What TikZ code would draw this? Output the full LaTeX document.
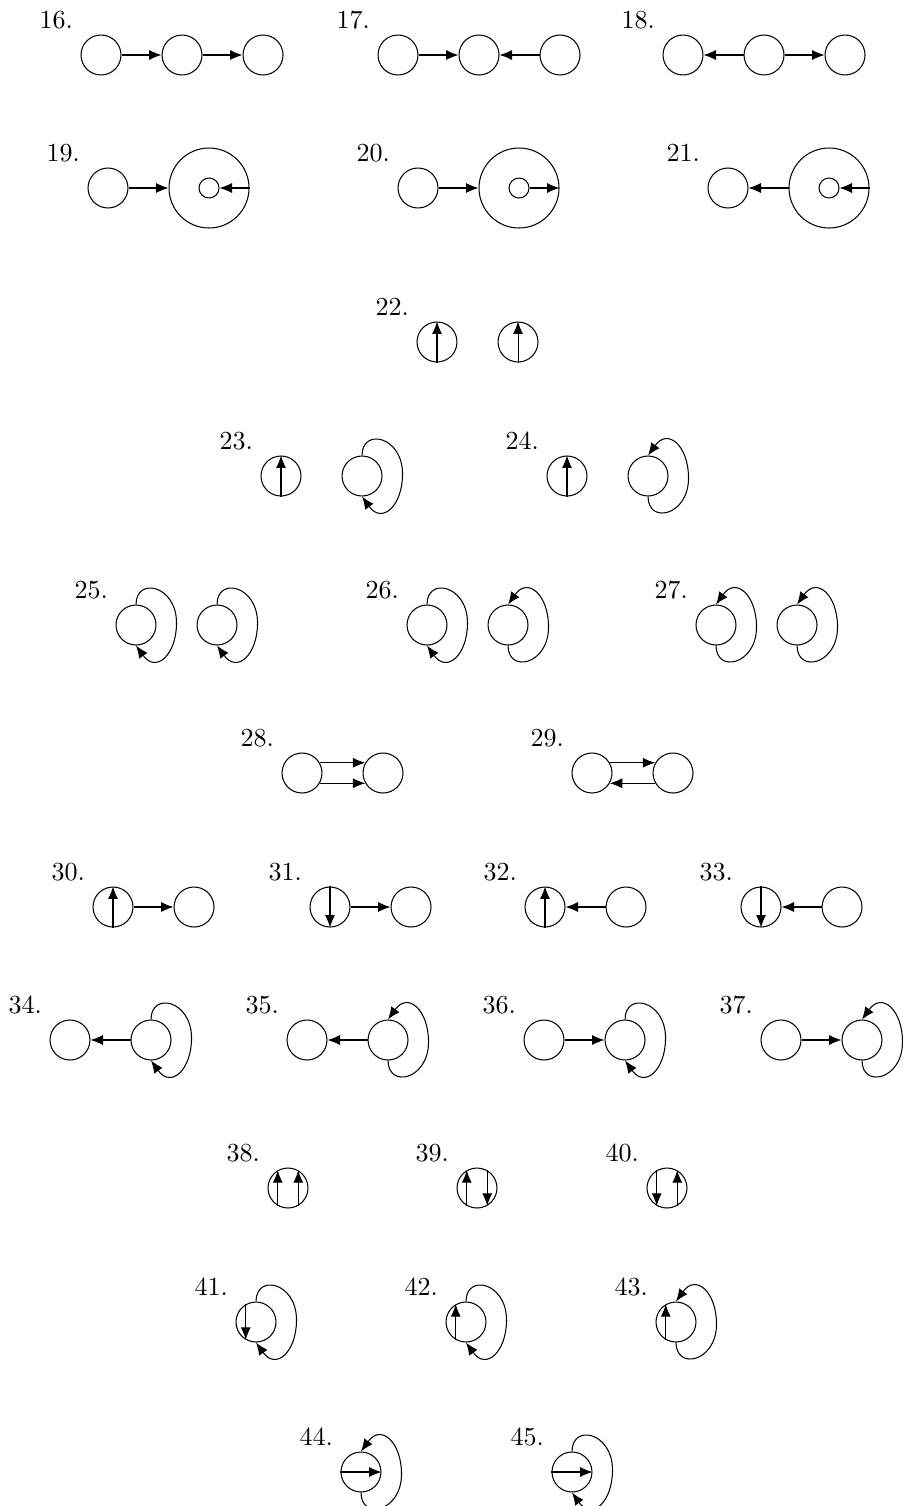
\documentclass[tikz,border=0pt]{standalone}
\usepackage{tikz}
\usetikzlibrary{arrows.meta,calc,positioning}
\tikzset{
    >={Latex[length=4.8pt,width=3.9pt]},
    state/.style={circle, draw, minimum size=0.54cm, inner sep=0pt},
    big/.style={circle, draw, minimum size=1.08cm, inner sep=0pt},
    tiny/.style={circle, draw, minimum size=0.27cm, inner sep=0pt},
    lbl/.style={inner sep=3.33pt}
}
% self loops round the right side, arrow at the south or at the north
\newcommand{\loopS}[1]{\draw[->] (#1.north) .. controls +(0,28) and +(0,38) .. ($(#1.east)+(20,2)$) .. controls +(0,-32) and +(20,-28) .. (#1.south);}
\newcommand{\loopN}[1]{\draw[->] (#1.south) .. controls +(0,-28) and +(0,-38) .. ($(#1.east)+(20,-2)$) .. controls +(0,32) and +(20,28) .. (#1.north);}

\begin{document}
\begin{tikzpicture}[x=0.0135cm,y=0.0135cm]
    \useasboundingbox (0,0) rectangle (902,-1506);
    % 16 - 18
    \node[state] (a16) at (101,-55) {};
    \node[state] (b16) [right=0.54cm of a16] {};
    \node[state] (c16) [right=0.54cm of b16] {};
    \node[lbl] (l16) [above left=1pt and 1.7pt of a16] {16.};
    \draw[->] (a16) -- (b16);
    \draw[->] (b16) -- (c16);
    \node[state] (a17) at (398,-55) {};
    \node[state] (b17) [right=0.54cm of a17] {};
    \node[state] (c17) [right=0.54cm of b17] {};
    \node[lbl] (l17) [above left=1pt and 1.7pt of a17] {17.};
    \draw[->] (a17) -- (b17);
    \draw[->] (c17) -- (b17);
    \node[state] (a18) at (683,-55) {};
    \node[state] (b18) [right=0.54cm of a18] {};
    \node[state] (c18) [right=0.54cm of b18] {};
    \node[lbl] (l18) [above left=1pt and 1.7pt of a18] {18.};
    \draw[->] (b18) -- (a18);
    \draw[->] (b18) -- (c18);
    % 19 - 21
    \node[state] (s19) at (108,-188) {};
    \node[big] (g19) [right=0.54cm of s19] {};
    \node[tiny] (t19) at (g19) {};
    \node[lbl] (l19) [above left=1pt and 1.7pt of s19] {19.};
    \draw[->] (s19) -- (g19);
    \draw[->] (g19.east) -- (t19.east);
    \node[state] (s20) at (418,-188) {};
    \node[big] (g20) [right=0.54cm of s20] {};
    \node[tiny] (t20) at (g20) {};
    \node[lbl] (l20) [above left=1pt and 1.7pt of s20] {20.};
    \draw[->] (s20) -- (g20);
    \draw[->] (t20.east) -- (g20.east);
    \node[state] (s21) at (728,-188) {};
    \node[big] (g21) [right=0.54cm of s21] {};
    \node[tiny] (t21) at (g21) {};
    \node[lbl] (l21) [above left=1pt and 1.7pt of s21] {21.};
    \draw[->] (g21) -- (s21);
    \draw[->] (g21.east) -- (t21.east);
    % 22
    \node[state] (a22) at (437,-342) {};
    \node[state] (b22) [right=0.54cm of a22] {};
    \node[lbl] (l22) [above left=1pt and 1.7pt of a22] {22.};
    \draw[->] (a22.south) -- (a22.north);
    \draw[->] (b22.south) -- (b22.north);
    % 23 - 24
    \node[state] (a23) at (281,-476) {};
    \node[state] (b23) [right=0.54cm of a23] {};
    \node[lbl] (l23) [above left=1pt and 1.7pt of a23] {23.};
    \draw[->] (a23.south) -- (a23.north);
    \loopS{b23}
    \node[state] (a24) at (567,-476) {};
    \node[state] (b24) [right=0.54cm of a24] {};
    \node[lbl] (l24) [above left=1pt and 1.7pt of a24] {24.};
    \draw[->] (a24.south) -- (a24.north);
    \loopN{b24}
    % 25 - 27
    \node[state] (a25) at (136,-625) {};
    \node[state] (b25) [right=0.54cm of a25] {};
    \node[lbl] (l25) [above left=1pt and 1.7pt of a25] {25.};
    \loopS{a25}
    \loopS{b25}
    \node[state] (a26) at (427,-625) {};
    \node[state] (b26) [right=0.54cm of a26] {};
    \node[lbl] (l26) [above left=1pt and 1.7pt of a26] {26.};
    \loopS{a26}
    \loopN{b26}
    \node[state] (a27) at (716,-625) {};
    \node[state] (b27) [right=0.54cm of a27] {};
    \node[lbl] (l27) [above left=1pt and 1.7pt of a27] {27.};
    \loopN{a27}
    \loopN{b27}
    % 28 - 29
    \node[state] (a28) at (302,-773) {};
    \node[state] (b28) [right=0.54cm of a28] {};
    \node[lbl] (l28) [above left=1pt and 1.7pt of a28] {28.};
    \draw[->] (a28.30) -- (b28.150);
    \draw[->] (a28.-30) -- (b28.-150);
    \node[state] (a29) at (592,-773) {};
    \node[state] (b29) [right=0.54cm of a29] {};
    \node[lbl] (l29) [above left=1pt and 1.7pt of a29] {29.};
    \draw[->] (a29.30) -- (b29.150);
    \draw[->] (b29.-150) -- (a29.-30);
    % 30 - 33
    \node[state] (a30) at (113,-907) {};
    \node[state] (b30) [right=0.54cm of a30] {};
    \node[lbl] (l30) [above left=1pt and 1.7pt of a30] {30.};
    \draw[->] (a30.south) -- (a30.north);
    \draw[->] (a30) -- (b30);
    \node[state] (a31) at (330,-907) {};
    \node[state] (b31) [right=0.54cm of a31] {};
    \node[lbl] (l31) [above left=1pt and 1.7pt of a31] {31.};
    \draw[->] (a31.north) -- (a31.south);
    \draw[->] (a31) -- (b31);
    \node[state] (a32) at (545,-907) {};
    \node[state] (b32) [right=0.54cm of a32] {};
    \node[lbl] (l32) [above left=1pt and 1.7pt of a32] {32.};
    \draw[->] (a32.south) -- (a32.north);
    \draw[->] (b32) -- (a32);
    \node[state] (a33) at (761,-907) {};
    \node[state] (b33) [right=0.54cm of a33] {};
    \node[lbl] (l33) [above left=1pt and 1.7pt of a33] {33.};
    \draw[->] (a33.north) -- (a33.south);
    \draw[->] (b33) -- (a33);
    % 34 - 37
    \node[state] (a34) at (70,-1040) {};
    \node[state] (b34) [right=0.54cm of a34] {};
    \node[lbl] (l34) [above left=1pt and 1.7pt of a34] {34.};
    \draw[->] (b34) -- (a34);
    \loopS{b34}
    \node[state] (a35) at (307,-1040) {};
    \node[state] (b35) [right=0.54cm of a35] {};
    \node[lbl] (l35) [above left=1pt and 1.7pt of a35] {35.};
    \draw[->] (b35) -- (a35);
    \loopN{b35}
    \node[state] (a36) at (544,-1040) {};
    \node[state] (b36) [right=0.54cm of a36] {};
    \node[lbl] (l36) [above left=1pt and 1.7pt of a36] {36.};
    \draw[->] (a36) -- (b36);
    \loopS{b36}
    \node[state] (a37) at (781,-1040) {};
    \node[state] (b37) [right=0.54cm of a37] {};
    \node[lbl] (l37) [above left=1pt and 1.7pt of a37] {37.};
    \draw[->] (a37) -- (b37);
    \loopN{b37}
    % 38 - 40
    \node[state] (a38) at (288,-1188) {};
    \node[lbl] (l38) [above left=1pt and 1.7pt of a38] {38.};
    \draw[->] (a38.-120) -- (a38.120);
    \draw[->] (a38.-60) -- (a38.60);
    \node[state] (a39) at (477,-1188) {};
    \node[lbl] (l39) [above left=1pt and 1.7pt of a39] {39.};
    \draw[->] (a39.-120) -- (a39.120);
    \draw[->] (a39.60) -- (a39.-60);
    \node[state] (a40) at (667,-1188) {};
    \node[lbl] (l40) [above left=1pt and 1.7pt of a40] {40.};
    \draw[->] (a40.120) -- (a40.-120);
    \draw[->] (a40.-60) -- (a40.60);
    % 41 - 43
    \node[state] (a41) at (256,-1322) {};
    \node[lbl] (l41) [above left=1pt and 1.7pt of a41] {41.};
    \draw[->] (a41.120) -- (a41.-120);
    \loopS{a41}
    \node[state] (a42) at (466,-1322) {};
    \node[lbl] (l42) [above left=1pt and 1.7pt of a42] {42.};
    \draw[->] (a42.-120) -- (a42.120);
    \loopS{a42}
    \node[state] (a43) at (676,-1322) {};
    \node[lbl] (l43) [above left=1pt and 1.7pt of a43] {43.};
    \draw[->] (a43.-120) -- (a43.120);
    \loopN{a43}
    % 44 - 45
    \node[state] (a44) at (361,-1472) {};
    \node[lbl] (l44) [above left=1pt and 1.7pt of a44] {44.};
    \draw[->] (a44.west) -- (a44.east);
    \loopN{a44}
    \node[state] (a45) at (572,-1472) {};
    \node[lbl] (l45) [above left=1pt and 1.7pt of a45] {45.};
    \draw[->] (a45.west) -- (a45.east);
    \loopS{a45}
\end{tikzpicture}
\end{document}
